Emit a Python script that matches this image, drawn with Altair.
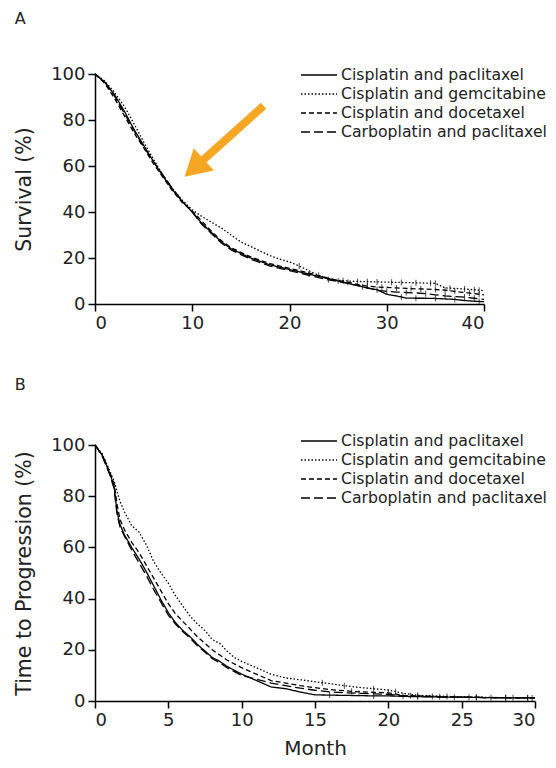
import altair as alt
import pandas as pd
import numpy as np

FONT = "DejaVu Sans"
INK = "#222222"

series_names = ["Cisplatin and paclitaxel", "Cisplatin and gemcitabine",
                "Cisplatin and docetaxel", "Carboplatin and paclitaxel"]
dash_styles = [[1, 0], [1.5, 2], [5, 3], [9, 4]]

# ---------------- Panel A: overall survival ----------------
months_A = list(range(0, 41))
os_cis_pac = [100, 96.5, 91, 84, 76, 69, 62, 55.5, 49.5, 44.5, 40,
              35, 31, 27, 24, 22, 20, 18.5, 17, 16, 15,
              14, 13, 12, 11, 10, 9, 8, 7, 6.2, 4.2,
              3.5, 2.6, 2.5, 2.5, 2.4, 2.2, 2, 1.5, 1.2, 1]
os_cis_gem = [100, 97, 92, 86, 78.5, 70.5, 63, 56, 50, 45, 41,
              38, 35.5, 33, 30, 27, 25, 23, 21, 19.5, 18.3,
              16.5, 14.5, 12.5, 11, 10.3, 10, 9.8, 9.7, 9.6, 9.5,
              9.4, 9.3, 9.2, 9.1, 9, 7, 6.8, 6.5, 6.2, 5.8]
os_cis_doc = [100, 96, 89.5, 82, 74.5, 68, 61, 55, 49, 44, 40.5,
              36, 31.5, 27.5, 24.5, 22.5, 20.5, 19, 17.5, 16.5, 15.5,
              14.5, 13.5, 12.3, 11.2, 10.2, 9.5, 8.5, 7.8, 7.4, 7.2,
              7, 6.8, 6.6, 6.5, 6.3, 6, 5.5, 5, 4.5, 4]
os_carb_pac = [100, 96.5, 90.5, 83, 75.5, 68.5, 62, 56, 50, 44.5, 40,
               34.5, 30.5, 26.5, 23.5, 21.5, 19.5, 18, 16.5, 15.5, 14.5,
               13.5, 12.5, 11.5, 10.5, 9.8, 9, 8, 7, 6, 5.5,
               5.2, 5, 4.8, 4.5, 4, 3.5, 3.2, 3, 2.5, 2]
censor_A = [
    [22, 25, 29, 31.5, 33, 35, 37, 39.5],
    [21, 23, 25.5, 27, 28, 29, 30.5, 31.5, 33, 34.5, 35, 36.5, 38, 39, 39.5],
    [26, 28, 29.5, 31, 32.5, 33.5, 35, 36, 37, 38.5, 39.5],
    [24, 27.5, 30, 32, 34, 36, 38, 39],
]

# ---------------- Panel B: time to progression ----------------
months_B = [0, 0.5, 1, 1.3, 1.5, 1.7, 2, 2.5, 3, 3.5, 4, 4.5, 5, 5.5, 6, 6.5,
            7, 7.5, 8, 8.5, 9, 9.5, 10, 11, 12, 13, 14, 15, 16, 17, 18, 19,
            20, 21, 22, 23, 24, 25, 26, 27, 28, 29, 30]
ttp_cis_pac = [100, 96, 89, 84, 74, 69, 65,
               60, 55.5, 50.5, 45, 39.5, 34.5, 30.5, 27.5, 25, 22, 19.5, 17, 15.5, 13.5, 12, 10.5,
               8, 5.5, 4.8, 3.5, 2.4, 2.3, 2.2, 2.1, 2, 2, 1.8, 1.7, 1.6, 1.5, 1.5, 1.4, 1.3, 1.2, 1.2, 1.2]
ttp_cis_gem = [100, 96.5, 90, 86, 82, 78, 74,
               68.5, 66, 61, 54.5, 50, 46, 41, 37, 33, 30, 27.5, 24, 22.5, 19.5, 17, 15.5,
               13, 10.5, 9, 8.3, 7.5, 6.8, 6, 5.3, 4.8, 4.3, 3, 2.2, 2, 1.8, 1.6, 1.5, 1.4, 1.3, 1.3, 1.2]
ttp_cis_doc = [100, 96, 89.5, 85, 77, 71, 67,
               62, 58, 53, 48, 43, 38, 34, 31, 28, 25, 22.5, 20, 18, 16, 14.5, 13,
               10.5, 8, 7, 6, 5.2, 4.5, 4, 3.6, 3.4, 3.2, 2.2, 2, 1.8, 1.6, 1.5, 1.4, 1.3, 1.3, 1.2, 1.2]
ttp_carb_pac = [100, 95.5, 88.5, 83, 73, 68, 64.5,
                59, 54, 49, 43.5, 38.5, 33.5, 30, 27, 24.5, 21.5, 19, 16.5, 15, 13, 11.5, 10,
                8.5, 7, 6, 5, 4.2, 3.6, 3.2, 3, 2.8, 2.6, 2, 1.8, 1.7, 1.6, 1.5, 1.4, 1.3, 1.3, 1.2, 1.2]
censor_B = [
    [16, 19, 22, 24.5, 27, 29.5],
    [15.5, 17, 19, 20.5, 22, 24, 26, 28, 29.5],
    [17.5, 20, 21.5, 23, 25.5, 28.5],
    [18, 21, 23.5, 26, 28, 29.8],
]

# Orange annotation arrow (data coordinates of panel A)
arrow_tail = [17.33, 86.2]
arrow_head = [10.2, 59.1]


def long_frame(months, series_values):
    rows = []
    for name, vals in zip(series_names, series_values):
        for m, v in zip(months, vals):
            rows.append({"series": name, "month": m, "value": v})
    return pd.DataFrame(rows)


def censor_frame(months, series_values, censor_lists):
    rows = []
    for name, vals, times in zip(series_names, series_values, censor_lists):
        for t in times:
            rows.append({"series": name, "month": t,
                         "value": float(np.interp(t, months, vals))})
    return pd.DataFrame(rows)


def panel(months, series_values, censor_lists, xmax, xstep, ytitle, xtitle,
          letter, w, h, legend_y, title_offset, extra=None):
    df = long_frame(months, series_values)
    cf = censor_frame(months, series_values, censor_lists)
    xax = alt.Axis(values=list(range(0, xmax + 1, xstep)), title=xtitle)
    yax = alt.Axis(values=[0, 20, 40, 60, 80, 100], title=ytitle)
    xs = alt.Scale(domain=[0, xmax], nice=False, zero=True)
    ys = alt.Scale(domain=[0, 100], nice=False)
    lines = alt.Chart(df).mark_line(color="black", strokeWidth=1.3).encode(
        x=alt.X("month:Q", scale=xs, axis=xax),
        y=alt.Y("value:Q", scale=ys, axis=yax),
        strokeDash=alt.StrokeDash(
            "series:N",
            scale=alt.Scale(domain=series_names, range=dash_styles),
            sort=series_names,
            legend=alt.Legend(orient="none", legendX=214, legendY=legend_y,
                              title=None),
        ),
        detail="series:N",
    )
    ticks = alt.Chart(cf).mark_tick(color="black", orient="vertical",
                                    size=6, thickness=1).encode(
        x="month:Q", y="value:Q")
    layers = [lines, ticks]
    if extra is not None:
        layers += extra
    return alt.layer(*layers).properties(
        width=w, height=h,
        title=alt.TitleParams(letter, anchor="start", frame="bounds",
                              fontSize=16, font=FONT, fontWeight="normal",
                              color=INK, offset=title_offset),
    )


arrow_df = pd.DataFrame([{"x": arrow_tail[0], "y": arrow_tail[1],
                          "x2": arrow_head[0], "y2": arrow_head[1]}])
arrow_shaft = alt.Chart(arrow_df).mark_rule(
    color="#F5A623", strokeWidth=8, strokeCap="butt").encode(
    x="x:Q", y="y:Q", x2="x2:Q", y2="y2:Q")
arrow_tip = alt.Chart(arrow_df).mark_point(
    shape="triangle-up", filled=True, color="#F5A623", opacity=1,
    size=900, angle=228).encode(x="x2:Q", y="y2:Q")

panel_A = panel(months_A, [os_cis_pac, os_cis_gem, os_cis_doc, os_carb_pac],
                censor_A, 40, 10, "Survival (%)", None, "A", 389, 230, -9, 38,
                extra=[arrow_shaft, arrow_tip])
panel_B = panel(months_B, [ttp_cis_pac, ttp_cis_gem, ttp_cis_doc, ttp_carb_pac],
                censor_B, 30, 5, "Time to Progression (%)", "Month", "B",
                440, 256, -14, 38)

chart = alt.vconcat(panel_A, panel_B, spacing=45).resolve_scale(
    strokeDash="independent").resolve_legend(strokeDash="independent").properties(
    padding={"left": 6, "top": 3, "right": 0, "bottom": 0}
).configure_view(stroke=None).configure_axis(
    grid=False, domainColor="black", domainWidth=1.5, tickColor="black",
    tickWidth=1.5, tickSize=7, labelFont=FONT, labelFontSize=18,
    labelColor=INK, labelPadding=3, titleFont=FONT, titleFontSize=20.5,
    titleFontWeight="normal", titleColor=INK, titlePadding=16,
).configure_axisX(titlePadding=9, titleFontSize=20).configure_legend(
    symbolType="M-2,0H2", symbolSize=324, symbolStrokeWidth=1.5,
    symbolStrokeColor="black", labelFont=FONT, labelFontSize=15.7,
    labelColor=INK, labelOffset=12, rowPadding=1, padding=0, offset=0,
    labelLimit=400,
)

chart.save("out.html", embed_options={"renderer": "svg", "actions": False})
